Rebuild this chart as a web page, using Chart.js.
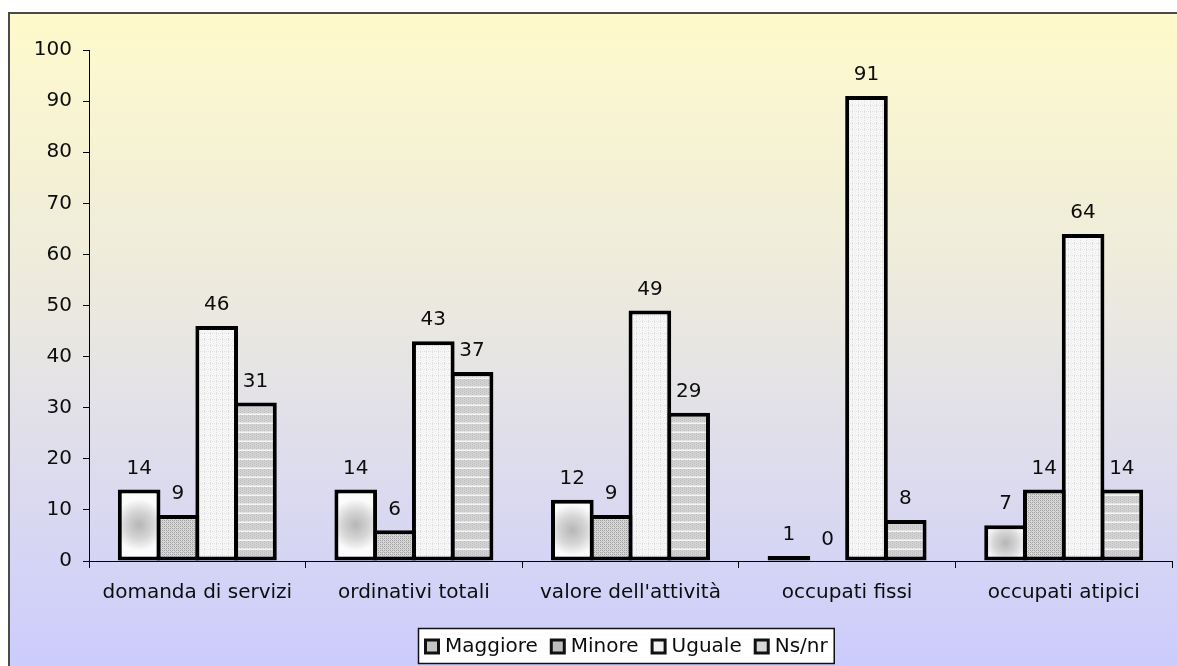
<!DOCTYPE html>
<html>
<head>
<meta charset="utf-8">
<title>Andamento</title>
<script src="https://cdn.jsdelivr.net/npm/chart.js@4/dist/chart.umd.min.js"></script>
<style>
  html, body { margin: 0; padding: 0; background: #fff; }
  #wrap { width: 1177px; height: 666px; }
</style>
</head>
<body>
<div id="wrap"><canvas id="c" width="1177" height="666"></canvas></div>
<script>
// Categories and percentages per answer
const categories = ['domanda di servizi', 'ordinativi totali', "valore dell'attività", 'occupati fissi', 'occupati atipici'];
const maggiore = [14, 14, 12, 1, 7];
const minore   = [9, 6, 9, 0, 14];
const uguale   = [46, 43, 49, 91, 64];
const nsnr     = [31, 37, 29, 8, 14];
const seriesNames = ['Maggiore', 'Minore', 'Uguale', 'Ns/nr'];
const yTicks = { min: 0, max: 100, step: 10 };

const FONT = 'DejaVu Sans, Verdana, sans-serif';
const FSIZE = 20;
const INK = '#0d0d0d';

// small tiled fills for the bars
function makePattern(w, h, draw) {
  const cv = document.createElement('canvas');
  cv.width = w; cv.height = h;
  const g = cv.getContext('2d');
  draw(g);
  return g.createPattern(cv, 'repeat');
}
const patMinore = makePattern(4, 4, g => {
  g.fillStyle = '#d8d8d8'; g.fillRect(0, 0, 4, 4);
  g.fillStyle = '#a2a2a2';
  g.fillRect(0, 0, 1, 1); g.fillRect(2, 2, 1, 1); g.fillRect(2, 0, 1, 1); g.fillRect(0, 2, 1, 1);
  g.fillStyle = '#bcbcbc';
  g.fillRect(1, 1, 1, 1); g.fillRect(3, 3, 1, 1);
});
const patUguale = makePattern(6, 6, g => {
  g.fillStyle = '#f7f7f7'; g.fillRect(0, 0, 6, 6);
  g.fillStyle = '#e0e0e0';
  for (let i = 0; i < 6; i += 2) { g.fillRect(0, i, 1, 1); g.fillRect(i, 3, 1, 1); }
  g.fillStyle = '#eaeaea';
  g.fillRect(3, 1, 1, 1); g.fillRect(3, 5, 1, 1);
});
const patNs = makePattern(4, 9, g => {
  g.fillStyle = '#d3d3d3'; g.fillRect(0, 0, 4, 9);
  g.fillStyle = '#bdbdbd';
  for (let y = 1; y < 8; y += 2) { g.fillRect(0, y, 1, 1); g.fillRect(2, y + 1, 1, 1); }
  g.fillStyle = '#f4f4f4'; g.fillRect(0, 0, 4, 1);
  g.fillStyle = '#e4e4e4'; g.fillRect(0, 8, 4, 1);
});

// soft grey centre on the first series
function maggioreFill(ctx) {
  const el = ctx.chart.getDatasetMeta(ctx.datasetIndex).data[ctx.dataIndex];
  if (!el || !el.width || el.base === undefined) return '#d6d6d6';
  const cx = el.x, cy = (el.y + el.base) / 2;
  const r = Math.max(4, Math.min(el.width, Math.abs(el.base - el.y)) * 0.6);
  const c = ctx.chart.ctx;
  const grad = c.createRadialGradient(cx, cy, 0, cx, cy, r);
  grad.addColorStop(0, '#b6b6b6');
  grad.addColorStop(0.55, '#d6d6d6');
  grad.addColorStop(1, '#fbfbfb');
  return grad;
}

const legendFills = ['#c4c4c4', '#bdbdbd', '#f2f2f2', '#d6d6d6'];

// gradient panel behind the plot
const panel = {
  id: 'panel',
  beforeDraw(chart) {
    const c = chart.ctx;
    c.save();
    c.fillStyle = '#ffffff';
    c.fillRect(0, 0, chart.width, chart.height);
    const g = c.createLinearGradient(0, 13, 0, chart.height);
    g.addColorStop(0, '#fffacb');
    g.addColorStop(0.45, '#ebe9df');
    g.addColorStop(1, '#ccccfd');
    c.fillStyle = g;
    c.fillRect(9, 13, chart.width - 9, chart.height - 13);
    c.strokeStyle = '#4a4a4a';
    c.lineWidth = 2;
    c.beginPath();
    c.moveTo(9, chart.height);
    c.lineTo(9, 13);
    c.lineTo(chart.width, 13);
    c.stroke();
    c.restore();
  }
};

// value printed above each bar
const valueLabels = {
  id: 'valueLabels',
  afterDatasetsDraw(chart) {
    const c = chart.ctx;
    c.save();
    c.font = FSIZE + 'px ' + FONT;
    c.fillStyle = INK;
    c.textAlign = 'center';
    c.textBaseline = 'middle';
    chart.data.datasets.forEach((ds, di) => {
      chart.getDatasetMeta(di).data.forEach((el, i) => {
        c.fillText(String(ds.data[i]), el.x, el.y - 21);
      });
    });
    c.restore();
  }
};

// boxed legend along the bottom edge
const boxLegend = {
  id: 'boxLegend',
  afterDraw(chart) {
    const c = chart.ctx;
    c.save();
    c.font = FSIZE + 'px ' + FONT;
    const icon = 16, gapIcon = 5, gapItem = 12, pad = 6;
    const items = chart.data.datasets.map((ds, i) => ({ label: ds.label, fill: legendFills[i], w: c.measureText(ds.label).width }));
    let total = pad * 2 - gapItem;
    items.forEach(it => total += icon + gapIcon + it.w + gapItem);
    const cx = 626;
    const left = Math.round(cx - total / 2);
    const top = 628, h = 35;
    c.fillStyle = '#ffffff';
    c.fillRect(left, top, total, h);
    c.strokeStyle = '#111';
    c.lineWidth = 1.5;
    c.strokeRect(left + 0.5, top + 0.5, total, h);
    let x = left + pad;
    const mid = top + h / 2 + 1;
    c.textBaseline = 'middle';
    c.textAlign = 'left';
    items.forEach(it => {
      c.fillStyle = '#111';
      c.fillRect(x, mid - icon / 2, icon, icon);
      c.fillStyle = it.fill;
      c.fillRect(x + 3, mid - icon / 2 + 3, icon - 6, icon - 6);
      x += icon + gapIcon;
      c.fillStyle = INK;
      c.fillText(it.label, x, mid);
      x += it.w + gapItem;
    });
    c.restore();
  }
};

const barCommon = {
  borderColor: '#000000',
  borderWidth: 4,
  borderSkipped: false,
  barPercentage: 1.1,
  categoryPercentage: 0.716
};

const chart = new Chart(document.getElementById('c'), {
  type: 'bar',
  data: {
    labels: categories,
    datasets: [
      Object.assign({ label: seriesNames[0], data: maggiore, backgroundColor: maggioreFill }, barCommon),
      Object.assign({ label: seriesNames[1], data: minore, backgroundColor: patMinore }, barCommon),
      Object.assign({ label: seriesNames[2], data: uguale, backgroundColor: patUguale }, barCommon),
      Object.assign({ label: seriesNames[3], data: nsnr, backgroundColor: patNs }, barCommon)
    ]
  },
  options: {
    responsive: false,
    devicePixelRatio: 1,
    animation: false,
    layout: { padding: { left: 0, right: 5, top: 50, bottom: 0 } },
    plugins: { legend: { display: false }, tooltip: { enabled: false } },
    scales: {
      x: {
        afterFit(s) { s.height = 105; },
        grid: { offset: true, drawOnChartArea: false, drawTicks: true, tickLength: 7, color: '#000' },
        border: { color: '#000', width: 1 },
        ticks: { font: { family: FONT, size: FSIZE }, color: INK, padding: 13, maxRotation: 0, autoSkip: false }
      },
      y: {
        min: yTicks.min, max: yTicks.max,
        afterFit(s) { s.width = 89; },
        grid: { drawOnChartArea: false, drawTicks: true, tickLength: 6, color: '#000' },
        border: { color: '#000', width: 1 },
        ticks: { stepSize: yTicks.step, font: { family: FONT, size: FSIZE }, color: INK, padding: 11 }
      }
    }
  },
  plugins: [panel, valueLabels, boxLegend]
});
// second pass so the radial fills know each bar's final geometry
chart.update('none');
</script>
</body>
</html>
